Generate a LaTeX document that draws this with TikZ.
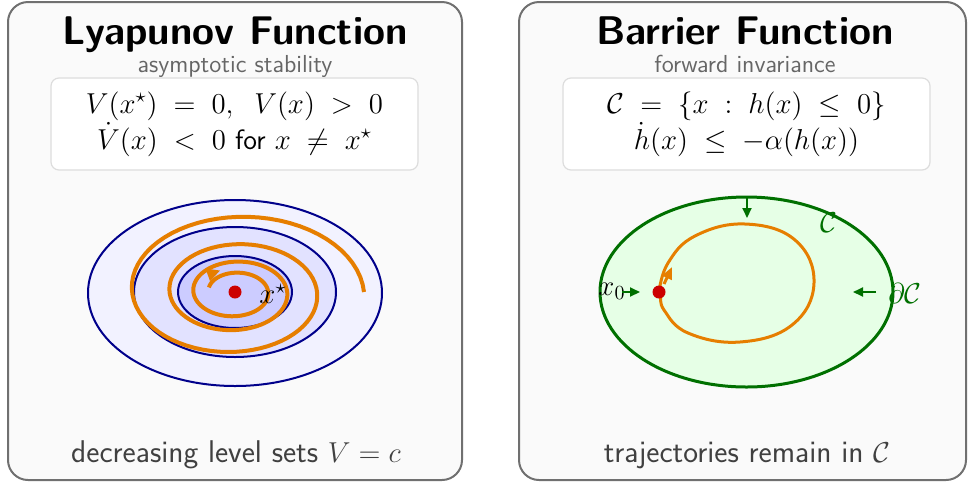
\documentclass[tikz,border=0pt]{standalone}
\usepackage{amsmath,amssymb}
\usepackage{tikz}
\usetikzlibrary{arrows.meta,positioning}
\definecolor{panelfill}{HTML}{FAFAFA}
\definecolor{panelline}{HTML}{707070}
\definecolor{boxline}{HTML}{DDDDDD}
\definecolor{subgray}{HTML}{666666}
\definecolor{lvlline}{HTML}{00008B}
\definecolor{lvlA}{HTML}{F2F2FF}
\definecolor{lvlB}{HTML}{E2E2FF}
\definecolor{lvlC}{HTML}{CCCCFF}
\definecolor{trajorange}{HTML}{E67E00}
\definecolor{eqred}{HTML}{CC0000}
\definecolor{safegreen}{HTML}{007000}
\definecolor{safefill}{HTML}{E6FFE6}
\tikzset{
  >={Triangle[length=5pt,width=4.5pt]},
  panel/.style ={draw=panelline, line width=1pt, fill=panelfill, rounded corners=10pt},
  title/.style ={font=\fontsize{20}{24}\selectfont\sffamily\bfseries, anchor=base},
  subt/.style  ={font=\fontsize{12.3}{14}\selectfont\sffamily, text=subgray, anchor=base},
  cond/.style  ={rectangle, rounded corners=4pt, draw=boxline, line width=0.6pt, fill=white,
                 minimum width=183.5pt, minimum height=46pt, align=center,
                 font=\fontsize{14}{17}\selectfont\sffamily},
  note/.style  ={font=\fontsize{15.7}{18}\selectfont\sffamily, text=black!75, anchor=base},
  lvl/.style   ={draw=lvlline, line width=1pt},
  traj/.style  ={draw=trajorange, line width=2pt, line join=round},
  eqpt/.style  ={circle, fill=eqred, inner sep=0pt, minimum size=6.5pt},
  push/.style  ={->, draw=safegreen, line width=1pt},
  mlbl/.style  ={font=\fontsize{14}{17}\selectfont, inner sep=0pt},
}

\begin{document}
\begin{tikzpicture}[x=0.5pt,y=-0.5pt]
\useasboundingbox (0,0) rectangle (969,483);
% panels
\draw[panel] (8,2) rectangle (462,480);
\draw[panel] (519,2) rectangle (966,480);

% Lyapunov side
\node[title] (lyapTitle) at (235,44) {Lyapunov Function};
\node[subt]  (lyapSub)   at (235,72) {asymptotic stability};
\node[cond]  (lyapCond)  at (234.5,124)
  {$V(x^\star)\;=\;0,\;\;V(x)\;>\;0$\\[1pt]$\dot V(x)\;<\;0$ for $x\;\neq\;x^\star$};
\filldraw[lvl, fill=lvlA] (235,293) ellipse [x radius=147, y radius=93];
\filldraw[lvl, fill=lvlB] (235,292) ellipse [x radius=101, y radius=65];
\filldraw[lvl, fill=lvlC] (235,292) ellipse [x radius=57, y radius=36];
\draw[traj] plot[domain=0:1245, samples=240]
  ({235+129*exp(-0.072*\x/57.2958)*cos(\x)}, {292-84*exp(-0.072*\x/57.2958)*sin(\x)});
\coordinate (spiralA) at (213,273);
\coordinate (spiralB) at (220,270.5);
\draw[trajorange, line width=1pt, -{Triangle[length=6.5pt,width=6.5pt]}] (spiralA) -- (spiralB);
\node[eqpt] (xstar) at (235,292) {};
\node[mlbl] (xstarLbl) at (273,294) {$x^\star$};
\node[note]  (lyapNote)  at (236,462) {decreasing level sets $V = c$};

% Barrier side
\node[title] (barTitle) at (745,44) {Barrier Function};
\node[subt]  (barSub)   at (745,72) {forward invariance};
\node[cond]  (barCond)  at (746.5,124)
  {$\mathcal{C}\;=\;\{x\;:\;h(x)\;\leq\;0\}$\\[1pt]$\dot h(x)\;\leq\;-\alpha(h(x))$};
\filldraw[draw=safegreen, line width=1.5pt, fill=safefill] (746.5,292) ellipse [x radius=146.5, y radius=95];
\draw[traj, line width=1.5pt] plot[smooth, tension=0.7] coordinates {(659,292) (668,263) (695,236)
    (745,224) (795,240) (814,283) (792,325) (740,342) (688,333) (664,310) (661,296)};
\node[eqpt] (x0) at (659,292) {};
\coordinate (loopA) at (664,284);
\coordinate (loopB) at (672,267);
\draw[trajorange, line width=1.5pt, -{Triangle[length=6pt,width=5pt]}] (loopA) -- (loopB);
\node[mlbl] (x0Lbl) at (612,291) {$x_0$};
\node[mlbl, text=safegreen] (setLbl) at (829,223) {$\mathcal{C}$};
\node[mlbl, text=safegreen] (bndLbl) at (905,293) {$\partial\mathcal{C}$};
\coordinate (topIn)   at (747,198);
\coordinate (topTip)  at (747,218);
\coordinate (leftIn)  at (622,292);
\coordinate (leftTip) at (640,292);
\coordinate (rgtIn)   at (876,292);
\coordinate (rgtTip)  at (853,292);
\draw[push] (topIn) -- (topTip);
\draw[push] (leftIn) -- (leftTip);
\draw[push] (rgtIn) -- (rgtTip);
\node[note]  (barNote)  at (747,462) {trajectories remain in $\mathcal{C}$};
\end{tikzpicture}
\end{document}
